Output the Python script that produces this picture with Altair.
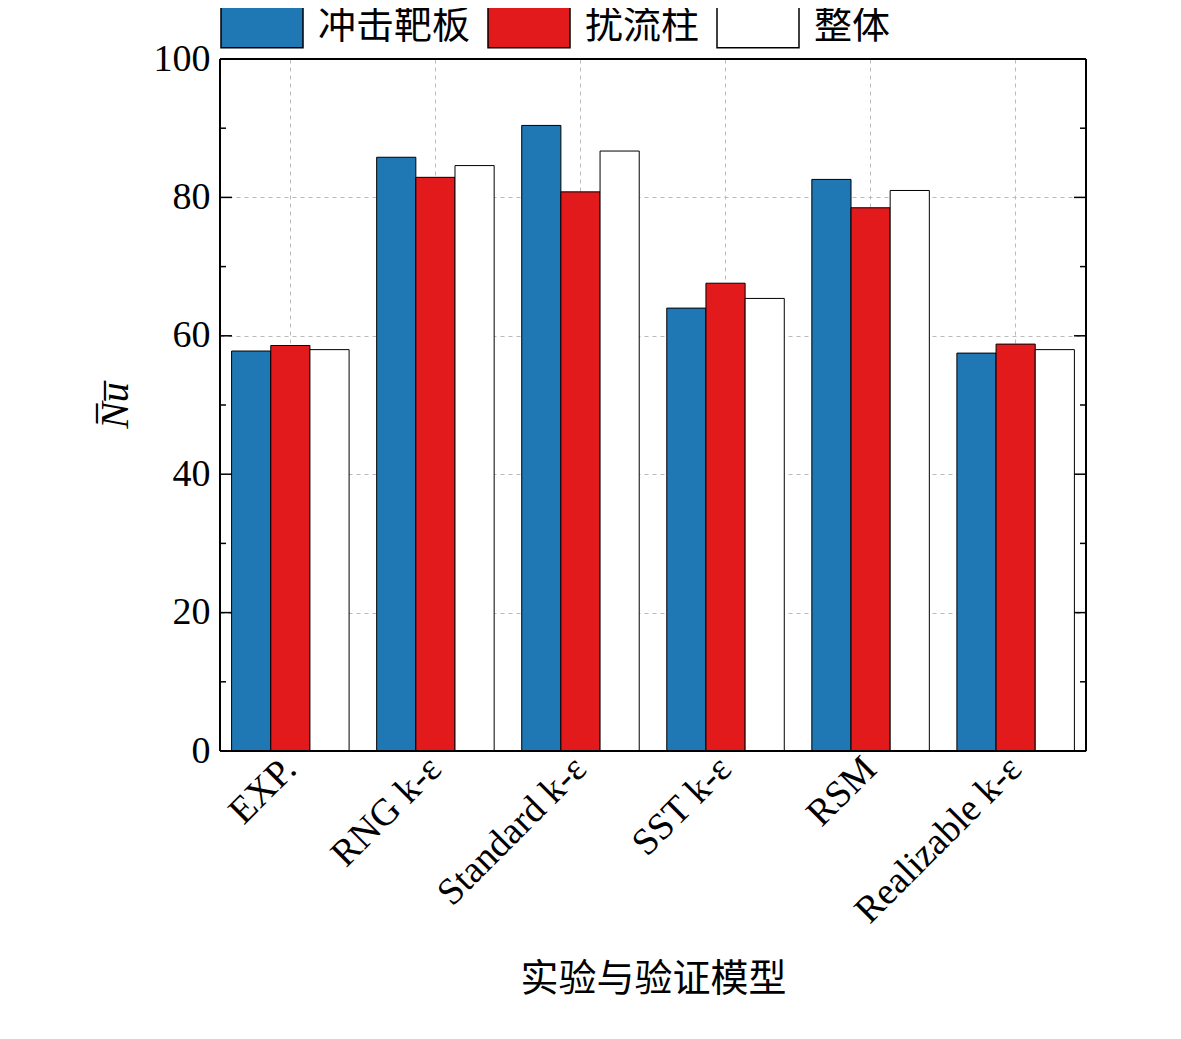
import altair as alt
import pandas as pd

models = ["EXP.", "RNG k-ε", "Standard k-ε", "SST k-ε", "RSM", "Realizable k-ε"]
series = ["冲击靶板", "扰流柱", "整体"]
v_target = [57.8, 85.8, 90.4, 64.0, 82.6, 57.5]
v_pin = [58.6, 82.9, 80.8, 67.6, 78.5, 58.8]
v_total = [58.0, 84.6, 86.7, 65.4, 81.0, 58.0]
colors = ["#1f77b4", "#e31a1c", "#ffffff"]
major_ticks = [0, 20, 40, 60, 80, 100]
minor_ticks = [10, 30, 50, 70, 90]

rows = []
for i, m in enumerate(models):
    for s, vals in zip(series, [v_target, v_pin, v_total]):
        rows.append({"model": m, "series": s, "value": vals[i]})
df = pd.DataFrame(rows)

W, H = 866, 692
serif = "Liberation Serif"
cjk = "Noto Sans CJK SC"

yscale = alt.Scale(domain=[0, 100], nice=False)

bars = alt.Chart(df).mark_bar(stroke="black", strokeWidth=1).encode(
    x=alt.X("model:N", sort=models, scale=alt.Scale(paddingInner=0.19, paddingOuter=0.08),
            axis=alt.Axis(title="实验与验证模型", labelAngle=-45, labelAlign="right", labelBaseline="middle",
                          labelFont=serif, labelFontSize=38, labelColor="black", labelLimit=0, titleFont=cjk,
                          titleFontSize=38, titleColor="black", titleFontWeight="normal", titlePadding=30,
                          tickSize=0, domain=False, grid=True, gridDash=[4, 4], gridColor="#bbbbbb",
                          labelPadding=12)),
    xOffset=alt.XOffset("series:N", sort=series),
    y=alt.Y("value:Q", scale=yscale,
            axis=alt.Axis(title="N̅u̅", values=major_ticks, labelFont=serif, labelFontSize=38,
                          labelColor="black", titleFont=serif, titleFontSize=40, titleFontStyle="italic",
                          titleFontWeight="normal", titleColor="black", titlePadding=18, tickSize=0,
                          domain=False, grid=True, gridDash=[4, 4], gridColor="#bbbbbb", labelPadding=10)),
    fill=alt.Fill("series:N", sort=series, scale=alt.Scale(domain=series, range=colors),
                  legend=alt.Legend(title=None, orient="none", legendX=0, legendY=-74, direction="horizontal",
                                    symbolType="M-1,-0.5H1V0.5H-1Z", symbolSize=6724, symbolStrokeColor="black",
                                    symbolStrokeWidth=1.5, labelFont=cjk, labelFontSize=38, labelColor="black",
                                    columnPadding=14, labelOffset=14, symbolOpacity=1, labelLimit=0)),
)

tmaj = pd.DataFrame({"v": major_ticks})
tmin = pd.DataFrame({"v": minor_ticks})

def ticks(d, L):
    a = alt.Chart(d).mark_rule(color="black", strokeWidth=1.5).encode(
        y=alt.Y("v:Q", scale=yscale), x=alt.value(0), x2=alt.value(L))
    b = alt.Chart(d).mark_rule(color="black", strokeWidth=1.5).encode(
        y=alt.Y("v:Q", scale=yscale), x=alt.value(W - L), x2=alt.value(W))
    return a + b

fdf = pd.DataFrame({"v": [0, 100]})
hframe = alt.Chart(fdf).mark_rule(color="black", strokeWidth=2).encode(
    y=alt.Y("v:Q", scale=yscale), x=alt.value(0), x2=alt.value(W))
vframe_l = alt.Chart(fdf.head(1)).mark_rule(color="black", strokeWidth=2).encode(
    x=alt.value(0), y=alt.value(0), y2=alt.value(H))
vframe_r = alt.Chart(fdf.head(1)).mark_rule(color="black", strokeWidth=2).encode(
    x=alt.value(W), y=alt.value(0), y2=alt.value(H))

chart = alt.layer(bars, ticks(tmaj, 12), ticks(tmin, 6), hframe, vframe_l, vframe_r).properties(
    width=W, height=H, autosize=alt.AutoSizeParams(type="none"),
    padding={"left": 212, "top": 51, "right": 80, "bottom": 280},
).configure_view(stroke=None).configure(background="white")

chart.save("out.html", embed_options={"renderer": "svg", "actions": False})
